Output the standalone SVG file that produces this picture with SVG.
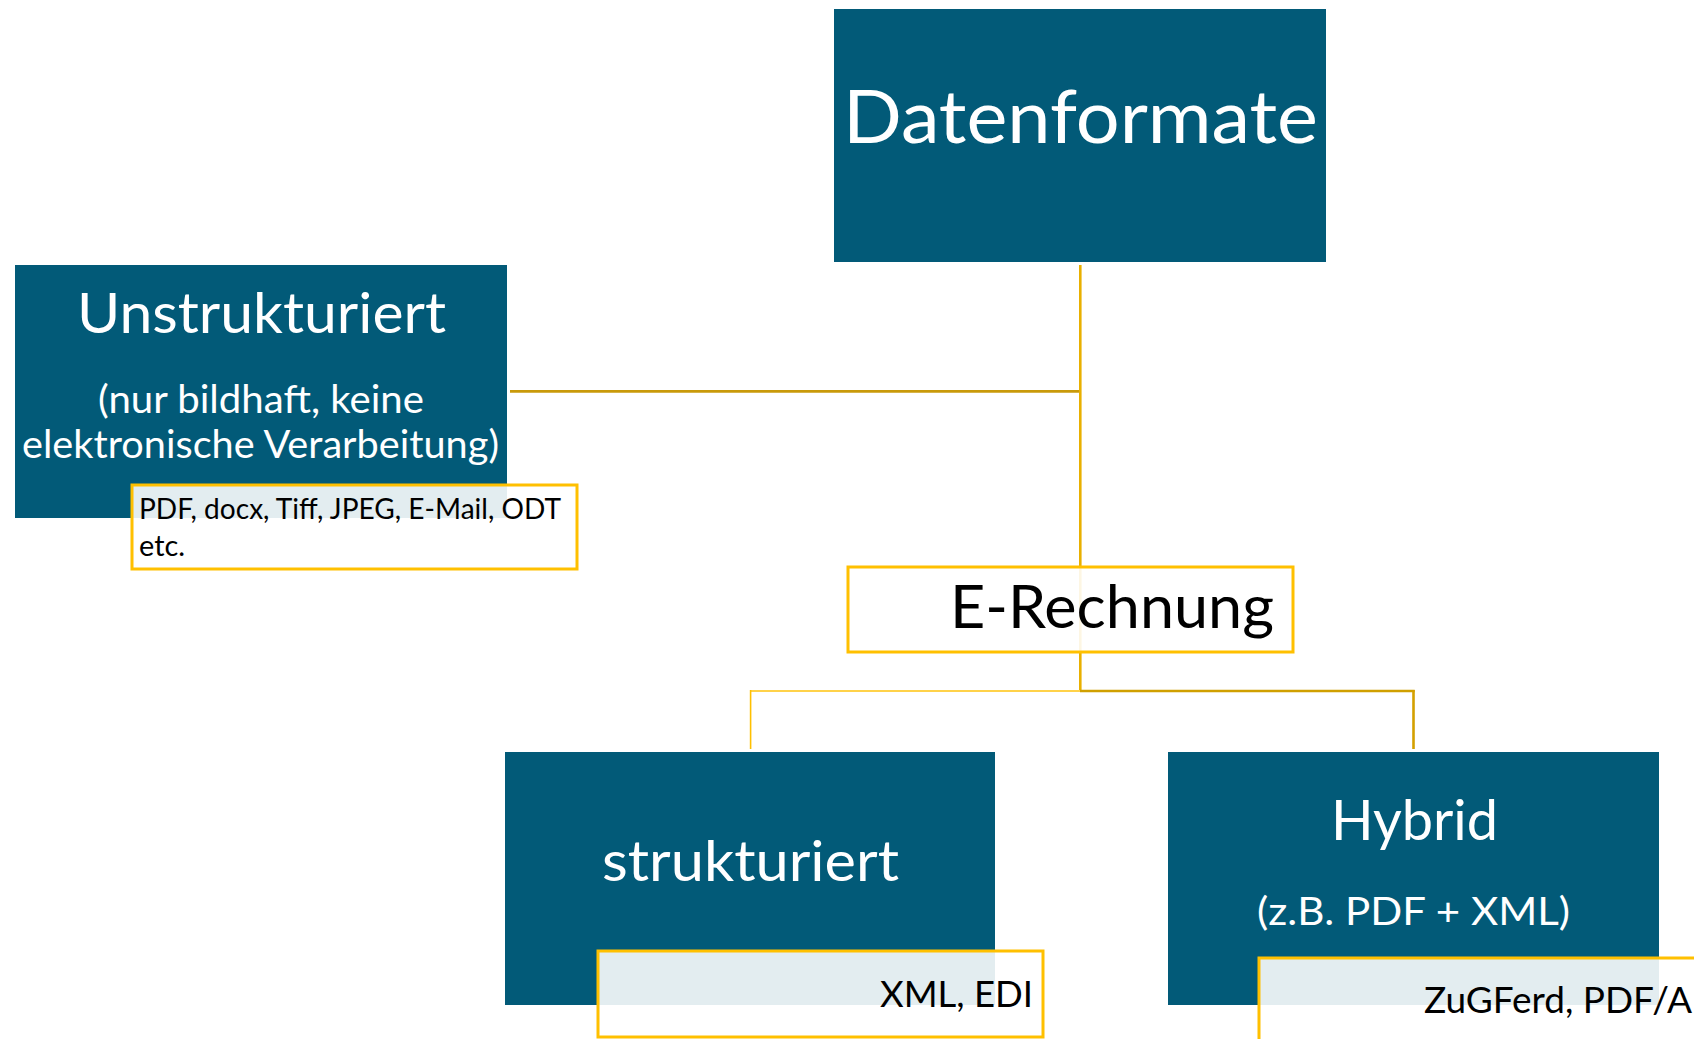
<svg xmlns="http://www.w3.org/2000/svg" width="1694" height="1039" viewBox="0 0 1694 1039">
<style>
.box{fill:#025a78}
.note{fill:#ffffff;fill-opacity:0.89;stroke:#ffc000;stroke-width:3}
.wt{fill:#ffffff;font-family:Lato,"Open Sans","Liberation Sans",sans-serif}
.bt{fill:#000000;font-family:Lato,"Open Sans","Liberation Sans",sans-serif}
.ln{fill:none;stroke-linecap:butt}
</style>
<rect width="1694" height="1039" fill="#ffffff"/>
<g id="connectors">
<line class="ln" x1="510" y1="391.3" x2="1080" y2="391.3" stroke="#c99a0a" stroke-width="2.8"/>
<line class="ln" x1="1080.3" y1="265" x2="1080.3" y2="692" stroke="#e9b000" stroke-width="2.6"/>
<line class="ln" x1="750" y1="691" x2="1080" y2="691" stroke="#ffd24a" stroke-width="2"/>
<line class="ln" x1="1080" y1="691" x2="1414.7" y2="691" stroke="#d0a000" stroke-width="2.6"/>
<line class="ln" x1="750.6" y1="690" x2="750.6" y2="749" stroke="#ffc000" stroke-width="1.6"/>
<line class="ln" x1="1413.5" y1="690" x2="1413.5" y2="749" stroke="#d4a000" stroke-width="2.6"/>
</g>
<g id="node-datenformate">
<rect class="box" x="834" y="9" width="492" height="253"/>
<text class="wt" x="843" y="143" font-size="74" textLength="475" lengthAdjust="spacingAndGlyphs">Datenformate</text>
</g>
<g id="node-unstrukturiert">
<rect class="box" x="15" y="265" width="492" height="253"/>
<text class="wt" x="77" y="332.5" font-size="56" textLength="369" lengthAdjust="spacingAndGlyphs">Unstrukturiert</text>
<text class="wt" x="98" y="413" font-size="38" textLength="326" lengthAdjust="spacingAndGlyphs">(nur bildhaft, keine</text>
<text class="wt" x="22" y="458" font-size="38" textLength="477" lengthAdjust="spacingAndGlyphs">elektronische Verarbeitung)</text>
</g>
<g id="node-unstrukturiert-formate">
<rect class="note" x="132" y="485" width="445" height="84"/>
<text class="bt" x="139" y="519" font-size="29" textLength="422" lengthAdjust="spacingAndGlyphs">PDF, docx, Tiff, JPEG, E-Mail, ODT</text>
<text class="bt" x="139" y="556" font-size="29" textLength="46" lengthAdjust="spacingAndGlyphs">etc.</text>
</g>
<g id="node-erechnung">
<rect class="note" x="848" y="567" width="445" height="85"/>
<text class="bt" x="950" y="628" font-size="60" textLength="324" lengthAdjust="spacingAndGlyphs">E-Rechnung</text>
</g>
<g id="node-strukturiert">
<rect class="box" x="505" y="752" width="490" height="253"/>
<text class="wt" x="602" y="880.5" font-size="57" textLength="297" lengthAdjust="spacingAndGlyphs">strukturiert</text>
</g>
<g id="node-strukturiert-formate">
<rect class="note" x="598" y="951" width="445" height="86"/>
<text class="bt" x="880" y="1006.5" font-size="36" textLength="153" lengthAdjust="spacingAndGlyphs">XML, EDI</text>
</g>
<g id="node-hybrid">
<rect class="box" x="1168" y="752" width="491" height="253"/>
<text class="wt" x="1331" y="840" font-size="56" textLength="167" lengthAdjust="spacingAndGlyphs">Hybrid</text>
<text class="wt" x="1257" y="925" font-size="38" textLength="313" lengthAdjust="spacingAndGlyphs">(z.B. PDF + XML)</text>
</g>
<g id="node-hybrid-formate">
<rect class="note" x="1259" y="958" width="460" height="100"/>
<text class="bt" x="1424" y="1013" font-size="36" textLength="268" lengthAdjust="spacingAndGlyphs">ZuGFerd, PDF/A</text>
</g>
</svg>
